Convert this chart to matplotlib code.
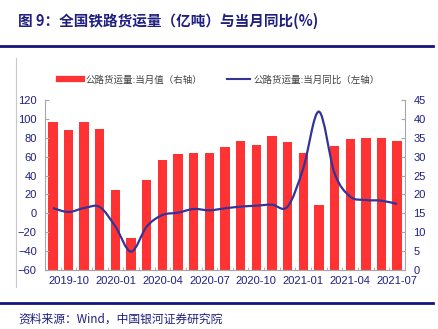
import numpy as np
import matplotlib
matplotlib.use('Agg')
import matplotlib.pyplot as plt
from matplotlib.path import Path
from matplotlib.patches import PathPatch
from matplotlib.lines import Line2D

plt.rcParams['font.family'] = ['Liberation Sans', 'Noto Sans CJK SC', 'DejaVu Sans']
cjk = ['Noto Sans CJK SC', 'DejaVu Sans']

months = ['2019-09', '2019-10', '2019-11', '2019-12',
          '2020-01', '2020-02', '2020-03', '2020-04', '2020-05', '2020-06',
          '2020-07', '2020-08', '2020-09', '2020-10', '2020-11', '2020-12',
          '2021-01', '2021-02', '2021-03', '2021-04', '2021-05', '2021-06', '2021-07']
# monthly value (right axis)
volume = [39.2, 37.0, 39.3, 37.3, 21.2, 8.4, 23.7, 29.1, 30.6, 30.9,
          31.0, 32.6, 34.2, 33.2, 35.4, 33.9, 31.1, 17.2, 32.9, 34.6,
          34.9, 34.9, 34.2]
# yoy % (left axis)
yoy = [5.6, 1.4, 5.6, 6.7, -14.0, -40.6, -14.0, -1.8, 0.7, 4.6,
       3.2, 5.3, 7.1, 8.1, 9.2, 7.1, 47.7, 107.7, 42.4, 17.7,
       14.1, 13.4, 9.9]
tick_labels = ['2019-10', '2020-01', '2020-04', '2020-07',
               '2020-10', '2021-01', '2021-04', '2021-07']

navy = '#1F1F80'
red = '#FF3333'
line_c = '#333399'
grey = '#A6A6A6'

fig = plt.figure(figsize=(4.39, 3.29), dpi=100)
ax = fig.add_axes([45/439, 1-270/329, 360/439, 170/329])
ax2 = ax.twinx()
ax.set_zorder(2)
ax.patch.set_visible(False)

x = np.arange(len(months))
ax2.bar(x, volume, width=0.6, color=red, zorder=1)

# smooth line like the original (bezier through the points)
pts = np.column_stack([x, yoy]).astype(float)
verts = [pts[0]]
codes = [Path.MOVETO]
n = len(pts)
for i in range(n - 1):
    p0 = pts[max(i - 1, 0)]
    p1 = pts[i]
    p2 = pts[i + 1]
    p3 = pts[min(i + 2, n - 1)]
    verts += [p1 + (p2 - p0) / 6, p2 - (p3 - p1) / 6, p2]
    codes += [Path.CURVE4] * 3
ax.add_patch(PathPatch(Path(verts, codes), facecolor='none', edgecolor=line_c, lw=1.6))

ax.set_xlim(-0.5, len(months) - 0.5)
ax.set_ylim(-60, 120)
ax.set_yticks(np.arange(-60, 121, 20))
ax2.set_ylim(0, 45)
ax2.set_yticks(np.arange(0, 46, 5))

ax.set_xticks([months.index(t) for t in tick_labels])
ax.set_xticklabels(tick_labels)
ax.set_xticks(np.arange(-0.5, len(months), 1), minor=True)

for a in (ax, ax2):
    a.spines['top'].set_visible(False)
    for s in ('left', 'right', 'bottom'):
        a.spines[s].set_color(grey)
        a.spines[s].set_linewidth(0.8)
    a.tick_params(axis='y', direction='in', length=3, color=grey,
                  labelsize=8, labelcolor=navy, pad=6)
ax.spines['right'].set_visible(False)
ax2.spines['left'].set_visible(False)
ax.tick_params(axis='x', which='major', length=0, labelsize=8, labelcolor=navy, pad=4)
ax.tick_params(axis='x', which='minor', direction='in', length=2.5, color=grey)

# legend
h1 = Line2D([], [], color=red, lw=4.5)
h2 = Line2D([], [], color=line_c, lw=1.5)
fig.legend([h1, h2], ['公路货运量:当月值（右轴）', '公路货运量:当月同比（左轴）'],
           loc='center', bbox_to_anchor=(0.5, 1-80/329), ncol=2, frameon=False,
           prop={'family': cjk, 'size': 6.8}, handlelength=2.4, handletextpad=0.4,
           columnspacing=2.6, labelcolor='#404040')

# title, rules, source
fig.text(18/439, 1-21/329, '图 9：全国铁路货运量（亿吨）与当月同比(%)', family=cjk,
         fontsize=10.5, fontweight='bold', color=navy, va='center', ha='left')
fig.add_artist(Line2D([0, 433/439], [1-45.5/329]*2, color='#14147A', lw=2))
fig.add_artist(Line2D([0, 433/439], [1-303/329]*2, color='#14147A', lw=2))
fig.add_artist(Line2D([16/439]*2, [1-58/329, 1-287/329], color='#C8C8C8', lw=0.8))
fig.text(18/439, 1-319/329, '资料来源：Wind，中国银河证券研究院', family=cjk,
         fontsize=8.5, style='italic', color=navy, va='center', ha='left')

fig.savefig('out.png', dpi=100)
